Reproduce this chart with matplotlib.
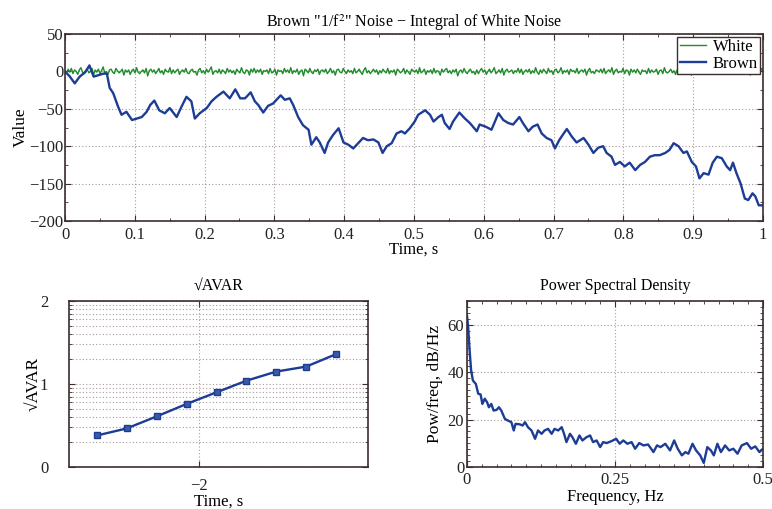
import numpy as np
import matplotlib
matplotlib.use('Agg')
import matplotlib.pyplot as plt
from matplotlib.ticker import FuncFormatter, MultipleLocator, FixedLocator

plt.rcParams['font.family'] = ['Liberation Serif', 'DejaVu Serif']
plt.rcParams['mathtext.fontset'] = 'stix'
plt.rcParams['font.size'] = 12

# top panel: white noise and its integral
white = [1, -2, 3, -1, 4, -3, 2, 0, -4, 2, 5, -1, -3, 1, 3, -2, 0, 4, -5, 2,
         -1, 3, -3, 1, 6, -2, 0, -4, 2, 3, -1, -3, 4, 1, -2, 0, 3, -5, 2, -1,
         2, -4, 1, 3, -2, 5, -1, -3, 0, 2, -2, 4, -6, 1, 3, -1, 2, -3, 0, 4,
         -2, 1, -4, 3, 0, -1, 5, -3, 2, -2, 1, 3, -4, 0, 2, -1, 4, -2, -3, 1,
         3, -1, 0, -5, 2, 4, -2, 1, -3, 3, -1, 2, 6, -4, 0, 1, -2, 3, -3, 2,
         0, -3, 4, -1, 2, -2, 1, -4, 3, 0, -2, 5, -1, -3, 2, 1, -5, 3, -1, 4,
         -2, 2, -1, 3, -4, 1, 0, 2, -3, 4, -2, -1, 3, -5, 2, 0, 1, -3, 4, -1,
         2, -2, 5, -3, 1, -1, 3, -4, 0, 2, -6, 3, 1, -2, 4, -1, -3, 2, 0, 3,
         -4, 1, 2, -1, 3, -3, 0, 4, -2, 1, -5, 2, 3, -1, -2, 4, 0, -3, 2, -1,
         1, -3, 4, -2, 0, 3, -1, -4, 2, 5, -2, 1, -3, 0, 3, -1, 2, -4, 1, -2,
         3, 0, -2, 4, -3, 1, -1, 2, -5, 3, 1, -2, 0, 4, -3, 2, -1, -4, 3, 1,
         -1, 2, -3, 5, -2, 0, 3, -4, 1, -1, 2, -3, 4, -2, 1, 0, -5, 3, -1, 2,
         4, -2, 1, -3, 2, -1, 3, -6, 0, 2, -2, 4, -1, -3, 1, 3, -2, 0, -4, 2,
         -3, 1, 4, -1, 2, -4, 0, 3, -2, 1, 5, -3, -1, 2, -2, 4, -5, 1, 3, -1,
         0, 2, -3, 1, -1, 4, -2, 3, -4, 0, 2, -1, 3, -3, 1, -2, 5, -1, -4, 2,
         -2, 3, 0, -3, 4, -1, 1, -4, 2, 3, -2, 0, 5, -3, 1, -1, 2, -4, 3, 0,
         1, -2, 4, -3, 0, 2, -1, 3, -5, 1, 4, -2, 0, -3, 2, 1, -1, 3, -2, 4,
         -3, 0, 2, -1, 5, -4, 1, 3, -2, 0, -1, 4, -3, 2, 1, -5, 3, -1, 2, -2,
         3, -1, -4, 2, 0, 1, -3, 4, -2, 2, -1, 0, 3, -4, 1, 2, -3, 5, -1, -2,
         0, 3, -2, 1, -4, 2, 4, -1, -3, 1, 2, -2, 3, 0, -5, 2, 1, -3, 4, -1,
         2, -3, 1, 4, -2, -1, 3, -4, 0, 2, -2, 5, -1, -3, 3, 1, -2, 0, 4, -3,
         -1, 2, -4, 1, 3, -2, 0, 4, -1, -3, 2, -5, 3, 1, -2, 2, 0, -3, 4, 1]

brown_t = [0.0, 0.007, 0.014, 0.021, 0.029, 0.035, 0.041, 0.048, 0.055, 0.060,
           0.064, 0.069, 0.076, 0.081, 0.088, 0.096, 0.103, 0.110, 0.117, 0.122,
           0.128, 0.135, 0.143, 0.150, 0.160, 0.167, 0.174, 0.181, 0.186, 0.193,
           0.203, 0.210, 0.217, 0.227, 0.236, 0.244, 0.251, 0.258, 0.266, 0.272,
           0.277, 0.284, 0.291, 0.298, 0.303, 0.309, 0.315, 0.322, 0.327, 0.334,
           0.341, 0.349, 0.353, 0.360, 0.365, 0.372, 0.377, 0.384, 0.392, 0.399,
           0.406, 0.413, 0.420, 0.427, 0.434, 0.442, 0.449, 0.455, 0.461, 0.468,
           0.475, 0.482, 0.487, 0.494, 0.501, 0.506, 0.516, 0.523, 0.528, 0.535,
           0.540, 0.544, 0.551, 0.556, 0.565, 0.573, 0.580, 0.590, 0.594, 0.603,
           0.611, 0.621, 0.628, 0.635, 0.642, 0.651, 0.656, 0.664, 0.670, 0.677,
           0.683, 0.690, 0.697, 0.702, 0.708, 0.713, 0.719, 0.726, 0.733, 0.738,
           0.743, 0.750, 0.757, 0.764, 0.771, 0.776, 0.783, 0.788, 0.795, 0.802,
           0.809, 0.817, 0.824, 0.831, 0.838, 0.845, 0.852, 0.860, 0.866, 0.872,
           0.879, 0.886, 0.891, 0.898, 0.904, 0.909, 0.915, 0.922, 0.928, 0.934,
           0.941, 0.948, 0.953, 0.957, 0.962, 0.968, 0.974, 0.979, 0.985, 0.989,
           0.994, 1.0]
brown = [0, -7, -16, -7, -1, 8, -7, -5, -3, -3,
         -22, -29, -47, -58, -54, -65, -63, -61, -54, -45,
         -39, -52, -56, -49, -61, -47, -34, -40, -63, -56,
         -49, -40, -34, -27, -36, -24, -36, -36, -28, -40,
         -45, -55, -46, -43, -38, -32, -38, -36, -45, -61,
         -72, -78, -98, -88, -95, -109, -95, -85, -76, -95,
         -98, -103, -96, -89, -92, -91, -95, -109, -100, -96,
         -83, -80, -83, -76, -67, -58, -52, -58, -67, -61,
         -58, -69, -77, -67, -55, -63, -69, -80, -71, -74,
         -78, -56, -65, -69, -71, -61, -69, -80, -74, -71,
         -83, -89, -92, -103, -92, -85, -77, -87, -95, -92,
         -89, -98, -109, -102, -100, -109, -114, -125, -121, -127,
         -122, -132, -125, -121, -114, -112, -112, -109, -105, -96,
         -100, -109, -107, -121, -127, -143, -136, -138, -122, -114,
         -116, -127, -132, -122, -136, -150, -170, -172, -163, -167,
         -179, -179]

# bottom left: sqrt(AVAR) vs tau (log10 units)
avar_x = [-2.51, -2.36, -2.21, -2.06, -1.91, -1.76, -1.61, -1.46, -1.31]
avar_y = [0.38, 0.465, 0.61, 0.76, 0.90, 1.04, 1.15, 1.21, 1.36]

# bottom right: PSD
psd_f = [0.0, 0.002, 0.0045, 0.007, 0.010, 0.015, 0.019, 0.023, 0.026, 0.030,
         0.034, 0.037, 0.041, 0.045, 0.050, 0.054, 0.058, 0.064, 0.069, 0.075,
         0.079, 0.082, 0.089, 0.094, 0.098, 0.103, 0.109, 0.115, 0.120, 0.126,
         0.131, 0.137, 0.143, 0.148, 0.154, 0.160, 0.164, 0.168, 0.174, 0.178,
         0.184, 0.190, 0.195, 0.202, 0.208, 0.213, 0.219, 0.225, 0.230, 0.236,
         0.244, 0.252, 0.258, 0.264, 0.271, 0.278, 0.284, 0.291, 0.298, 0.306,
         0.315, 0.321, 0.327, 0.335, 0.343, 0.350, 0.356, 0.363, 0.369, 0.374,
         0.381, 0.387, 0.394, 0.400, 0.406, 0.412, 0.417, 0.423, 0.429, 0.436,
         0.443, 0.450, 0.457, 0.464, 0.473, 0.480, 0.487, 0.494, 0.500]
psd = [63.8, 59, 49, 40.7, 36.5, 35, 30.9, 30.6, 26.6, 28.8,
       27.3, 25.2, 26.6, 23.8, 24.1, 25.2, 23.8, 20.3, 19.6, 18.9,
       15.4, 18.2, 18.0, 17.5, 18.9, 16.8, 15.4, 11.9, 15.4, 14.0,
       15.4, 16.1, 14.0, 16.1, 15.4, 16.8, 14.0, 10.5, 14.0, 12.6,
       9.8, 13.3, 11.2, 12.6, 13.3, 10.5, 11.2, 8.4, 10.5, 10.1,
       10.9, 11.9, 9.8, 11.2, 9.8, 10.5, 7.7, 10.1, 9.1, 9.5,
       6.3, 9.1, 8.4, 9.8, 7.0, 11.2, 7.7, 4.9, 6.3, 5.6,
       9.8, 7.0, 4.9, 1.7, 8.4, 7.0, 4.9, 9.8, 6.3, 9.1,
       7.0, 7.7, 5.6, 9.1, 10.1, 7.7, 8.7, 6.3, 7.7]

blue = '#1c3c96'
green = '#208a2c'
edge = '#3a2e2e'
gridc = '#a89a9a'


def style(ax):
    for s in ax.spines.values():
        s.set_color(edge)
        s.set_linewidth(1.2)
    ax.tick_params(which='both', direction='in', top=True, right=True,
                   colors=edge, labelcolor='#222222', labelsize=12)
    ax.tick_params(which='major', length=4)
    ax.tick_params(which='minor', length=2)
    ax.grid(True, which='major', linestyle=(0, (1, 2)), color=gridc, linewidth=0.8)


fmt = FuncFormatter(lambda v, p: ('%g' % v).replace('-', '\u2212'))

fig = plt.figure(figsize=(7.72, 5.09), dpi=100)

ax1 = fig.add_axes([0.0842, 0.5658, 0.9041, 0.3674])
t_white = np.linspace(0, 1, len(white))
ax1.plot(t_white, white, color=green, lw=1.0, label='White')
ax1.plot(brown_t, brown, color=blue, lw=1.7, label='Brown')
ax1.set_xlim(0, 1)
ax1.set_ylim(-200, 50)
ax1.xaxis.set_major_locator(MultipleLocator(0.1))
ax1.xaxis.set_minor_locator(MultipleLocator(0.05))
ax1.yaxis.set_major_locator(MultipleLocator(50))
ax1.yaxis.set_minor_locator(MultipleLocator(25))
ax1.xaxis.set_major_formatter(fmt)
ax1.yaxis.set_major_formatter(fmt)
style(ax1)
ax1.tick_params(axis='y', which='major', pad=1)
ax1.tick_params(axis='x', which='major', pad=4)
ax1.set_title('Brown "1/f$^2$" Noise \u2212 Integral of White Noise', fontsize=11.5, pad=5)
ax1.set_xlabel('Time, s', fontsize=12, labelpad=-1)
ax1.set_ylabel('Value', fontsize=12.5, labelpad=0)
leg = ax1.legend(loc='upper right', fontsize=12, fancybox=False, framealpha=1,
                 edgecolor=edge, borderpad=0.15, handlelength=1.6, handletextpad=0.4,
                 labelspacing=0.05, borderaxespad=0.15)
leg.get_frame().set_linewidth(1.0)

ax2 = fig.add_axes([0.0894, 0.0825, 0.3873, 0.3261])
ax2.plot(avar_x, avar_y, color=blue, lw=1.7, marker='s', ms=4,
         mfc='#3a5aa8', mec=blue, mew=1.0)
ax2.set_xlim(-2.65, -1.15)
ax2.set_ylim(0, 2)
ax2.xaxis.set_major_locator(FixedLocator([-2]))
ax2.yaxis.set_major_locator(FixedLocator([0, 1, 2]))
minor_pos = [d + np.log10(k) for d in (0, 1) for k in range(2, 10)]
ax2.yaxis.set_minor_locator(FixedLocator(minor_pos))
ax2.xaxis.set_major_formatter(fmt)
ax2.yaxis.set_major_formatter(fmt)
style(ax2)
ax2.tick_params(axis='y', which='major', pad=15)
ax2.tick_params(axis='x', which='major', pad=8)
ax2.grid(True, which='minor', axis='y', linestyle=(0, (1, 2)), color=gridc, linewidth=0.8)
ax2.set_title('\u221aAVAR', fontsize=11.5, pad=8)
ax2.set_xlabel('Time, s', fontsize=12, labelpad=0)
ax2.set_ylabel('\u221aAVAR', fontsize=12.5, labelpad=-1)

ax3 = fig.add_axes([0.6049, 0.0825, 0.3834, 0.3261])
ax3.plot(psd_f, psd, color=blue, lw=1.7)
ax3.set_xlim(0, 0.5)
ax3.set_ylim(0, 70)
ax3.xaxis.set_major_locator(MultipleLocator(0.25))
ax3.xaxis.set_minor_locator(MultipleLocator(0.025))
ax3.yaxis.set_major_locator(MultipleLocator(20))
ax3.yaxis.set_minor_locator(MultipleLocator(2.5))
ax3.xaxis.set_major_formatter(fmt)
ax3.yaxis.set_major_formatter(fmt)
style(ax3)
ax3.tick_params(axis='y', which='major', pad=2)
ax3.set_title('Power Spectral Density', fontsize=11.5, pad=8)
ax3.set_xlabel('Frequency, Hz', fontsize=12, labelpad=1)
ax3.set_ylabel('Pow/freq, dB/Hz', fontsize=12.5, labelpad=3)

fig.savefig('out.png', dpi=100)
